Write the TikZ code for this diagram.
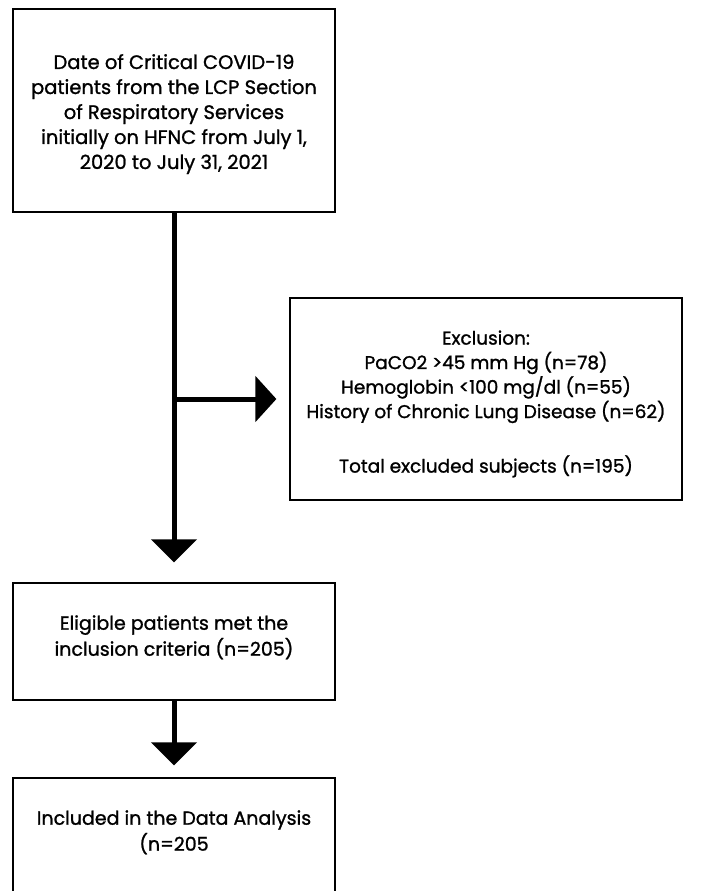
\documentclass[tikz,border=0pt]{standalone}
\usepackage{fontspec}
\setmainfont{Poppins}[FakeBold=1.2]
\usepackage{tikz}
\usetikzlibrary{arrows.meta}

\begin{document}
\begin{tikzpicture}[x=1pt, y=-1pt,
    box/.style={draw, line width=1.2pt, align=center, inner sep=0pt,
        font=\fontsize{18.5}{24.5}\selectfont},
    flow/.style={line width=5pt, -{Triangle[length=23pt,width=45pt]}}]
            \useasboundingbox (0,0) rectangle (718,891);

            \node[box,minimum width=322pt,minimum height=203pt,font=\fontsize{19.5}{25}\selectfont] (date) at (174, 110.5)
                {\rule{0pt}{22pt}Date of Critical COVID-19\\patients from the LCP Section\\of Respiratory Services\\initially on HFNC from July 1,\\2020 to July 31, 2021};
            \node[box,minimum width=392pt,minimum height=202pt] (excl) at (486, 399)
                {\rule{0pt}{24pt}Exclusion:\\PaCO2 >45 mm Hg (n=78)\\Hemoglobin <100 mg/dl (n=55)\\History of Chronic Lung Disease (n=62)\\[30pt]Total excluded subjects (n=195)};
            \node[box,minimum width=322pt,minimum height=117pt,font=\fontsize{19}{26}\selectfont] (elig) at (174, 641.5)
                {Eligible patients met the\\inclusion criteria (n=205)\\[-14pt]};
            \node[box,minimum width=322pt,minimum height=117pt,font=\fontsize{19}{26}\selectfont] (incl) at (174, 836.5)
                {Included in the Data Analysis\\(n=205\\[-14pt]};

            \draw[flow, shorten >=20pt] (date.south) -- (elig.north);
            \draw[flow, shorten >=13pt, -{Triangle[length=21pt,width=45pt]}] (date.south |- excl.west) -- (excl.west);
            \draw[flow, shorten >=12pt] (elig.south) -- (incl.north);
        \end{tikzpicture}
\end{document}
